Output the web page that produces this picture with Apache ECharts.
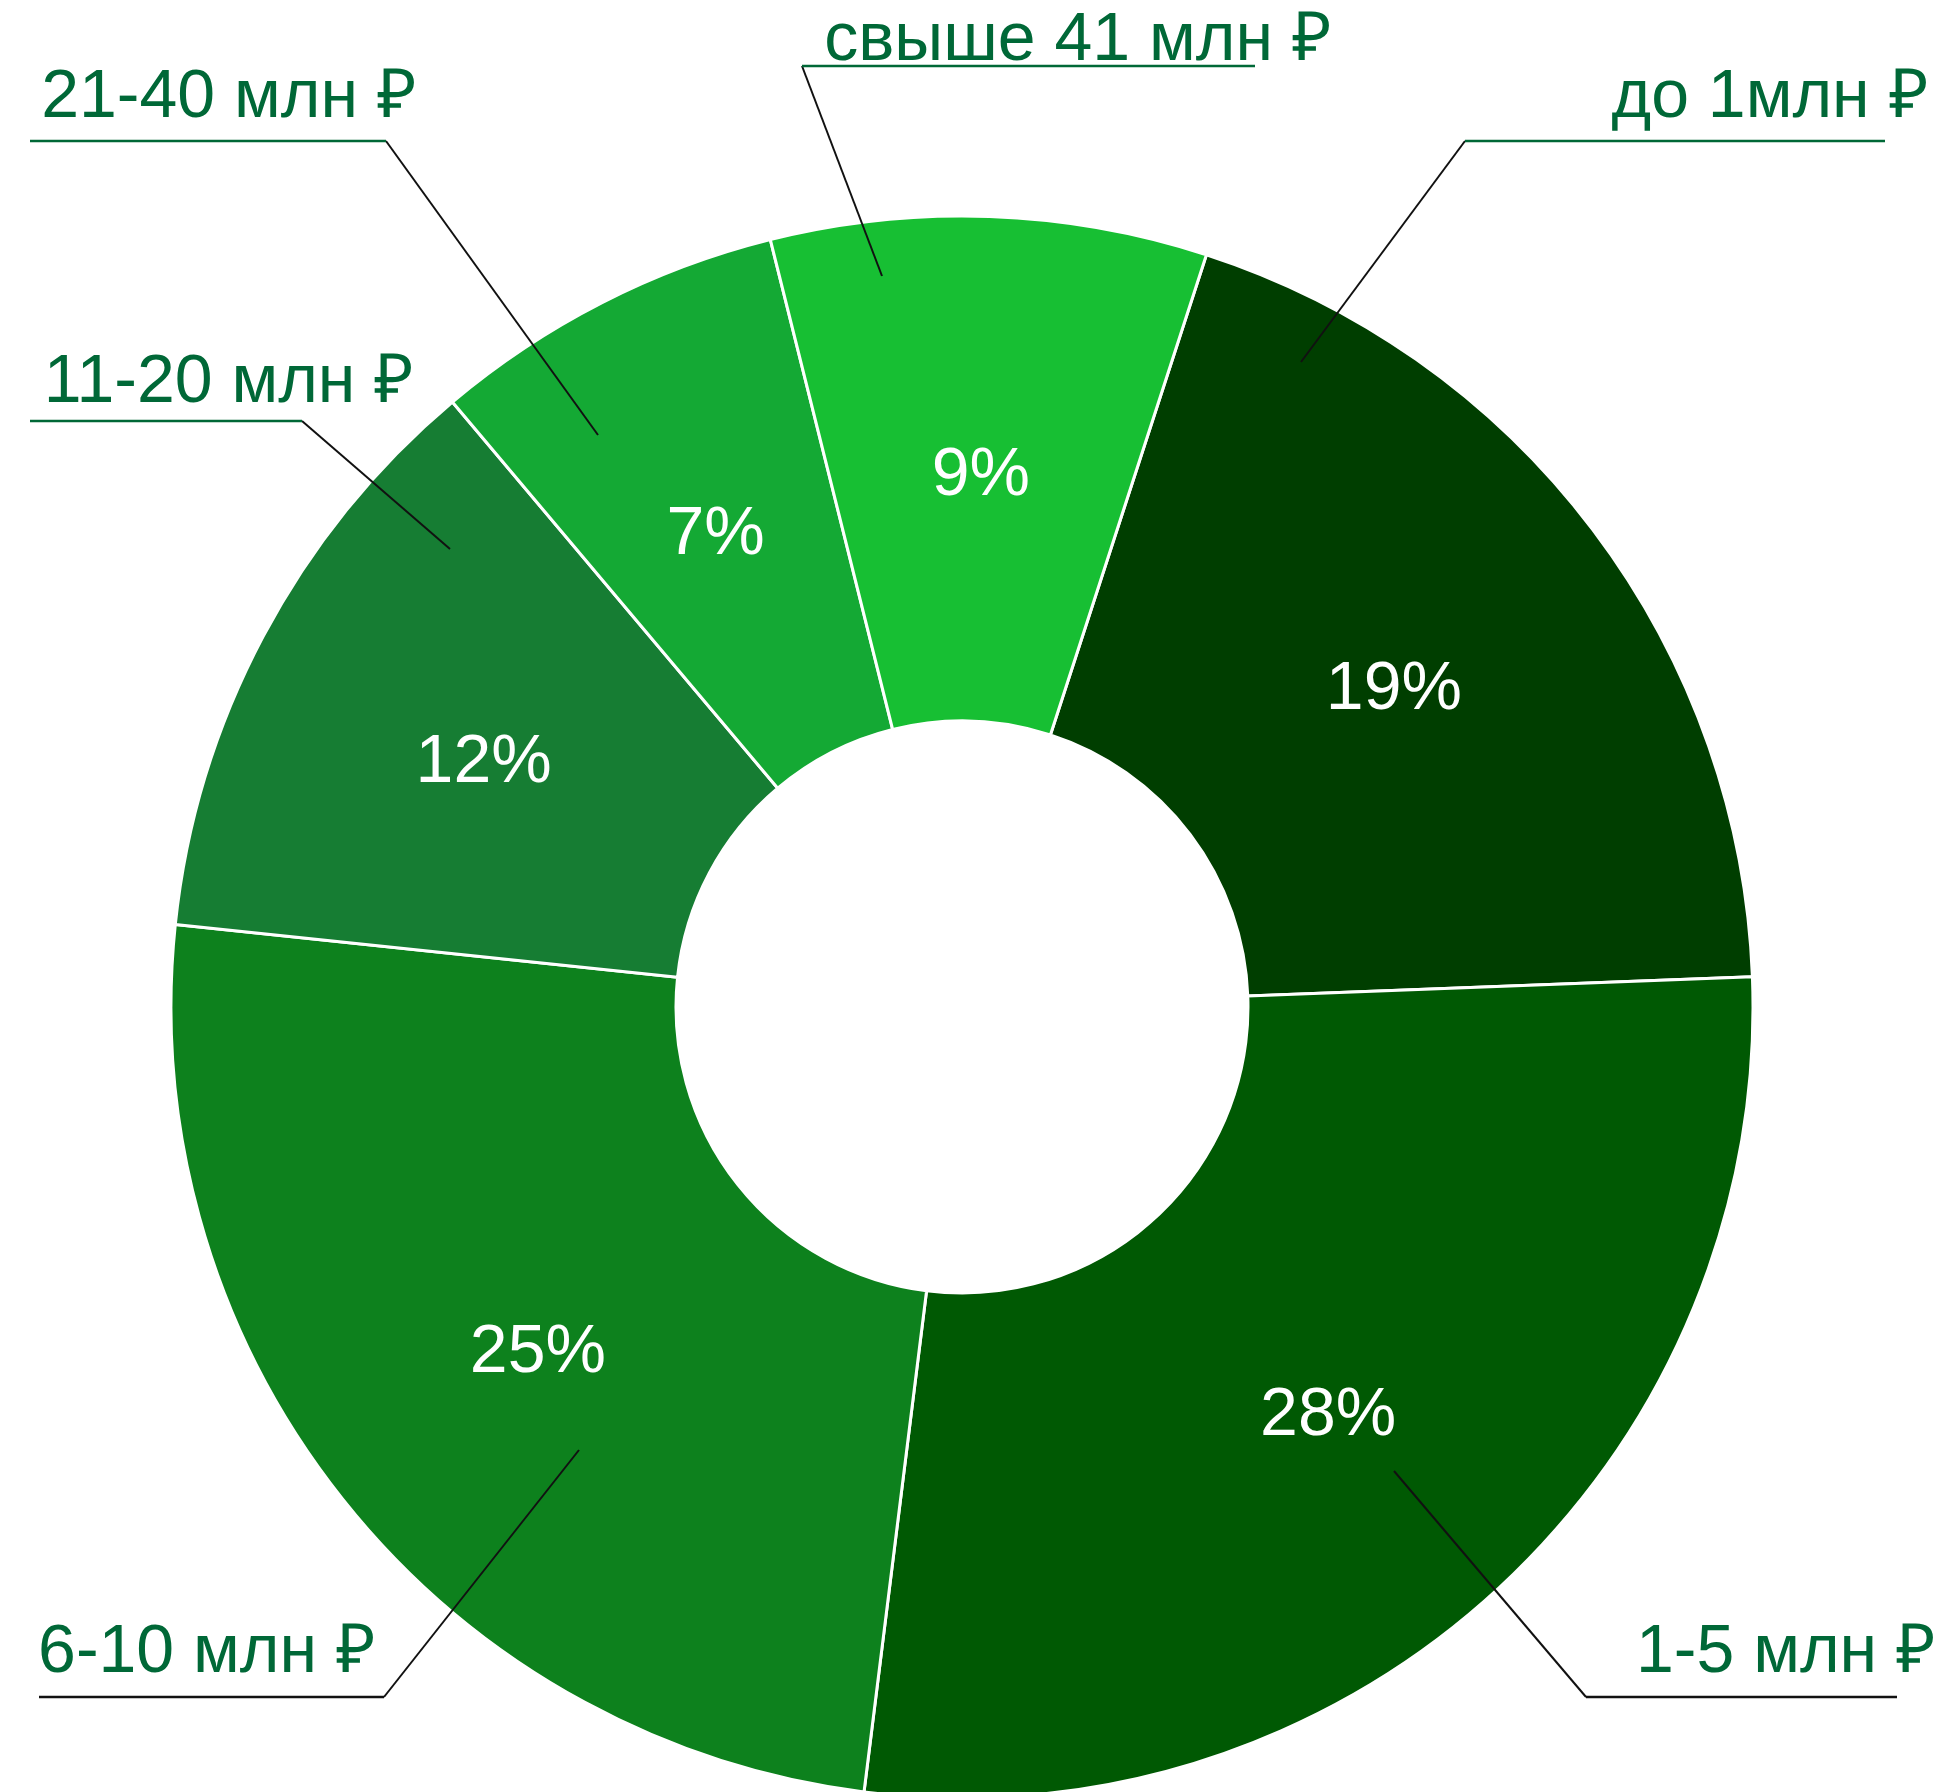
<!DOCTYPE html>
<html><head><meta charset="utf-8">
<script src="https://cdn.jsdelivr.net/npm/echarts@6/dist/echarts.min.js"></script>
<style>html,body{margin:0;padding:0;background:#fff}#c{width:1943px;height:1792px}</style>
</head><body><div id="c"></div>
<script>
// ---- data ----
const categories = ['до 1млн ₽', '1-5 млн ₽', '6-10 млн ₽', '11-20 млн ₽', '21-40 млн ₽', 'свыше 41 млн ₽'];
// slice shares (%); labels show them rounded
const shares = [19.4, 27.6, 24.7, 12.2, 7.25, 8.9];

// ---- styles ----
const sliceColors = ['#003e00', '#005903', '#0d811d', '#167d33', '#14a934', '#17bf33'];
const underlineColors = ['#006837', '#111111', '#111111', '#006837', '#006837', '#006837'];
const textGreen = '#006837';
const labelFont = 68;

// label annotation layout (leader start, elbow, underline end, text centre / baseline)
const labelGeom = [
  {start: [1301, 362],  elbow: [1465, 141],  end: 1885, text: [1770, 121]},
  {start: [1394, 1471], elbow: [1586, 1697], end: 1897, text: [1786, 1676]},
  {start: [579, 1450],  elbow: [384, 1697],  end: 39,   text: [207, 1676]},
  {start: [450, 549],   elbow: [302, 421],   end: 30,   text: [229, 406]},
  {start: [598, 435],   elbow: [386, 141],   end: 30,   text: [229, 121]},
  {start: [882, 276],   elbow: [802, 66],    end: 1255, text: [1078, 64]}
];

const chart = echarts.init(document.getElementById('c'), null, {renderer: 'canvas'});
const center = [962, 1007];
const radius = [286, 791];

const option = {
  animation: false,
  backgroundColor: '#ffffff',
  series: [
    {
      type: 'pie',
      center, radius,
      startAngle: 72,
      clockwise: true,
      avoidLabelOverlap: false,
      silent: true,
      data: categories.map((n, i) => ({name: n, value: shares[i], itemStyle: {color: sliceColors[i]}})),
      itemStyle: {borderColor: '#ffffff', borderWidth: 3},
      label: {
        show: true, position: 'inside',
        formatter: p => Math.round(p.value) + '%',
        color: '#ffffff', fontFamily: 'Liberation Sans', fontSize: 68, offset: [0, 10]
      },
      labelLine: {show: false},
      emphasis: {disabled: true}
    },
    {
      type: 'pie',
      center, radius,
      startAngle: 72,
      z: 5,
      silent: true,
      avoidLabelOverlap: false,
      data: categories.map((n, i) => ({name: n, value: shares[i]})),
      itemStyle: {color: 'rgba(0,0,0,0)', borderWidth: 0},
      label: {
        show: true, position: 'outside',
        formatter: p => p.name,
        color: textGreen, fontFamily: 'Liberation Sans', fontSize: labelFont, lineHeight: labelFont
      },
      labelLine: {show: true, smooth: 0, lineStyle: {color: '#111111', width: 2}},
      labelLayout: p => {
        const g = labelGeom[p.dataIndex];
        return {
          x: g.text[0], y: g.text[1] - labelFont * 0.33,
          align: 'center', verticalAlign: 'middle',
          labelLinePoints: [g.start, g.elbow, g.elbow]
        };
      },
      emphasis: {disabled: true}
    },
    {
      type: 'pie',
      center, radius,
      startAngle: 72,
      z: 5,
      silent: true,
      avoidLabelOverlap: false,
      data: categories.map((n, i) => ({name: n, value: shares[i], labelLine: {lineStyle: {color: underlineColors[i]}}})),
      itemStyle: {color: 'rgba(0,0,0,0)', borderWidth: 0},
      label: {show: true, position: 'outside', formatter: () => ' ', fontSize: 4, color: 'rgba(0,0,0,0)'},
      labelLine: {show: true, smooth: 0, lineStyle: {width: 2.5}},
      labelLayout: p => {
        const g = labelGeom[p.dataIndex];
        return {
          x: g.elbow[0], y: g.elbow[1],
          labelLinePoints: [g.elbow, [g.end, g.elbow[1]], [g.end, g.elbow[1]]]
        };
      },
      emphasis: {disabled: true}
    }
  ]
};
chart.setOption(option);
</script>
</body></html>
